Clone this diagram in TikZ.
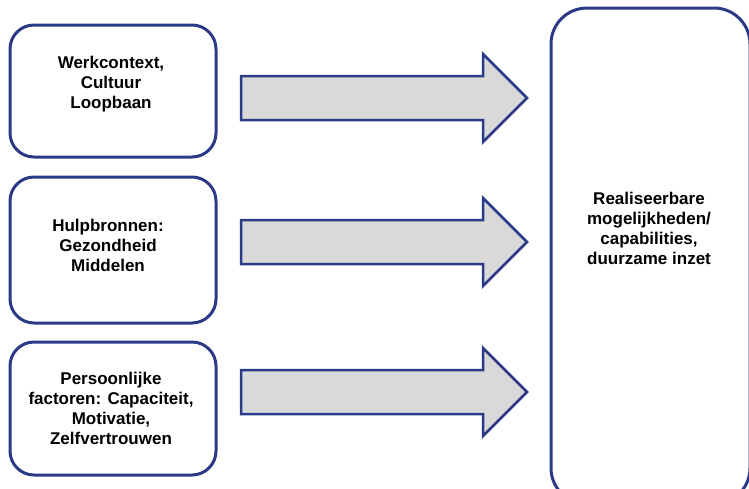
\documentclass[tikz,border=0pt]{standalone}
\usepackage{fontspec}
\setmainfont{Liberation Sans}
\definecolor{navy}{RGB}{43,58,135}
\definecolor{arrgray}{RGB}{217,217,217}
\begin{document}
\begin{tikzpicture}[x=1pt,y=-1pt,
  box/.style={draw=navy, line width=3pt, rounded corners=24pt, fill=white, inner sep=0pt},
  bigbox/.style={draw=navy, line width=3pt, rounded corners=36pt, fill=white, inner sep=0pt},
  fat/.style={draw=navy, line width=2.5pt, fill=arrgray, line join=miter},
  lbl/.style={font=\bfseries\fontsize{17}{20}\selectfont, align=center, inner sep=0pt, anchor=north}]
\useasboundingbox (0,0) rectangle (749,488);
\clip (0,0) rectangle (749,488);
% left boxes
\node[box, minimum width=206pt, minimum height=132pt] (b1) at (113,91) {};
\node[box, minimum width=206pt, minimum height=146pt] (b2) at (113,250) {};
\node[box, minimum width=206pt, minimum height=133pt] (b3) at (113,408.5) {};
% right box
\node[bigbox, minimum width=199pt, minimum height=496pt] (r) at (650.5,256) {};
% arrows
\draw[fat] (241,76) -- (483,76) -- (483,54) -- (527,98) -- (483,142) -- (483,120) -- (241,120) -- cycle;
\draw[fat] (241,220) -- (483,220) -- (483,198) -- (527,242) -- (483,286) -- (483,264) -- (241,264) -- cycle;
\draw[fat] (241,370) -- (483,370) -- (483,348) -- (527,392) -- (483,436) -- (483,414) -- (241,414) -- cycle;
% labels
\node[lbl] (t1) at (111,56) {Werkcontext,\\Cultuur\\Loopbaan};
\node[lbl] (t2) at (108,219) {Hulpbronnen:\\Gezondheid\\Middelen};
\node[lbl] (t3) at (111,372) {Persoonlijke\\factoren: Capaciteit,\\Motivatie,\\Zelfvertrouwen};
\node[lbl] (t4) at (649,192) {Realiseerbare\\mogelijkheden/\\capabilities,\\duurzame inzet};
\end{tikzpicture}
\end{document}
